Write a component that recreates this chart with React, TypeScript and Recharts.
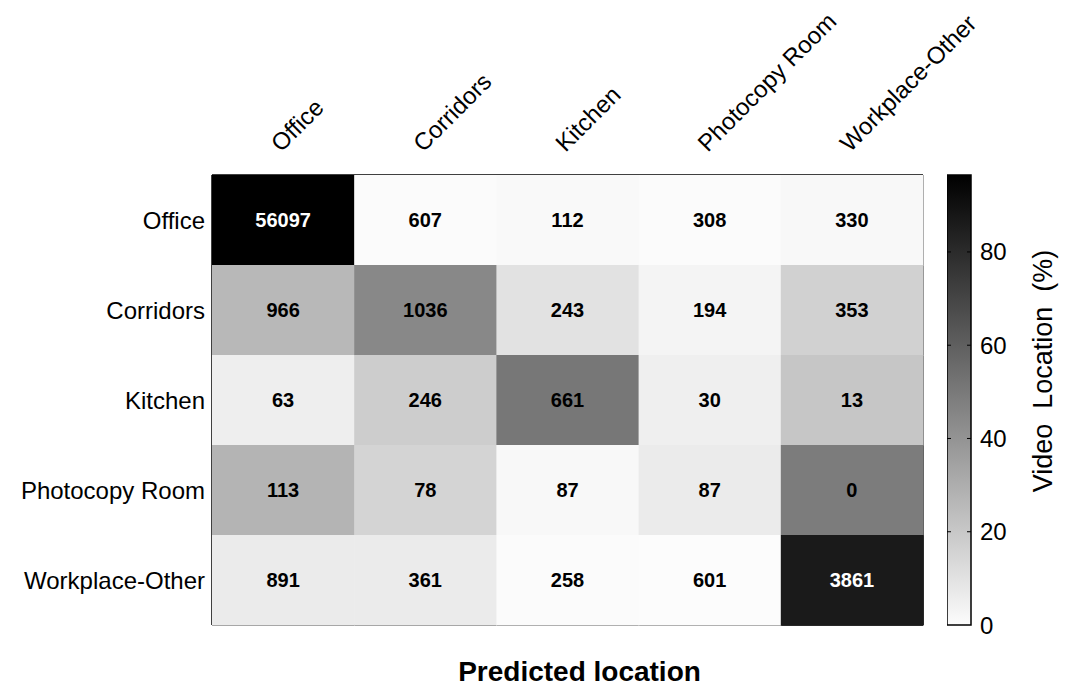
import { ScatterChart, Scatter, XAxis, YAxis, BarChart, Bar } from 'recharts';

const CLASSES = ['Office', 'Corridors', 'Kitchen', 'Photocopy Room', 'Workplace-Other'];

// rows = true location, columns = predicted location
const COUNTS = [
  [56097, 607, 112, 308, 330],
  [966, 1036, 243, 194, 353],
  [63, 246, 661, 30, 13],
  [113, 78, 87, 87, 0],
  [891, 361, 258, 601, 3861],
];

// shade of each cell, % of video location
const PERCENT = [
  [96.5, 0.5, 1.0, 0.5, 1.5],
  [26, 44.5, 10, 3, 16.5],
  [5.5, 18, 51, 5, 20.5],
  [27.5, 15.5, 1.5, 6.5, 49],
  [6.5, 6.5, 0.5, 0, 86.5],
];

const CB_TICKS = [0, 20, 40, 60, 80];

const FONT = "'Liberation Sans', Arial, Helvetica, sans-serif";
const W = 1074;
const H = 686;
const PLOT = { left: 212, top: 175, right: 923, bottom: 625 };
const PLOT_W = PLOT.right - PLOT.left;
const PLOT_H = PLOT.bottom - PLOT.top;
const MAX_PCT = Math.max(...PERCENT.flat());
const WHITE = 252;

const grayFor = (p: number) => {
  const g = Math.round(WHITE * (1 - Math.min(p, MAX_PCT) / MAX_PCT));
  return `rgb(${g},${g},${g})`;
};

const cells = COUNTS.flatMap((row, r) =>
  row.map((count, c) => ({ x: c + 0.5, y: r + 0.5, count, pct: PERCENT[r][c] }))
);

const CellShape = (props: any) => {
  const { cx, cy, payload } = props;
  const w = PLOT_W / CLASSES.length;
  const h = PLOT_H / CLASSES.length;
  const dark = payload.pct > 60;
  return (
    <g>
      <rect x={cx - w / 2} y={cy - h / 2} width={w + 0.6} height={h + 0.6} fill={grayFor(payload.pct)} />
      <text
        x={cx}
        y={cy}
        textAnchor="middle"
        dominantBaseline="central"
        fontFamily={FONT}
        fontWeight="bold"
        fontSize={20}
        fill={dark ? '#fff' : '#000'}
      >
        {payload.count}
      </text>
    </g>
  );
};

const TopTick = ({ x, y, payload }: any) => {
  const name = CLASSES[Math.floor(payload.value)];
  return (
    <text
      x={x - 2}
      y={y - 22}
      transform={`rotate(-45, ${x - 2}, ${y - 22})`}
      fontFamily={FONT}
      fontSize={24}
      fill="#000"
    >
      {name}
    </text>
  );
};

const LeftTick = ({ x, y, payload }: any) => (
  <text x={x - 7} y={y} textAnchor="end" dominantBaseline="central" fontFamily={FONT} fontSize={24} fill="#000">
    {CLASSES[Math.floor(payload.value)]}
  </text>
);

const CB_WIDTH = 24;

const ColorbarTick = ({ x, y, payload }: any) => (
  <g>
    {payload.value > 0 && (
      <>
        <line x1={x - CB_WIDTH} x2={x - CB_WIDTH + 4} y1={y} y2={y} stroke="#000" strokeWidth={1} />
        <line x1={x - 4} x2={x} y1={y} y2={y} stroke="#000" strokeWidth={1} />
      </>
    )}
    <text x={x + 9} y={y} dominantBaseline="central" fontFamily={FONT} fontSize={24} fill="#000">
      {payload.value}
    </text>
  </g>
);

const centers = CLASSES.map((_, i) => i + 0.5);

export default function App() {
  return (
    <div style={{ position: 'relative', width: W, height: H, background: '#fff', fontFamily: FONT }}>
      <style>{'body{margin:0}'}</style>
      <ScatterChart width={W} height={H} margin={{ top: 0, right: 0, bottom: 0, left: 0 }}>
        <XAxis
          xAxisId="t"
          orientation="top"
          type="number"
          dataKey="x"
          domain={[0, 5]}
          ticks={centers}
          height={PLOT.top}
          tickLine={false}
          tickSize={0}
          tickMargin={0}
          axisLine={{ stroke: '#000', strokeWidth: 1.5 }}
          tick={<TopTick />}
          interval={0}
        />
        <YAxis
          yAxisId="l"
          type="number"
          dataKey="y"
          domain={[0, 5]}
          reversed
          ticks={centers}
          width={PLOT.left}
          tickLine={false}
          tickSize={0}
          tickMargin={0}
          axisLine={{ stroke: '#000', strokeWidth: 1.5 }}
          tick={<LeftTick />}
          interval={0}
        />
        <Scatter xAxisId="t" yAxisId="l" data={cells} shape={<CellShape />} isAnimationActive={false} />
        <XAxis
          xAxisId="b"
          orientation="bottom"
          type="number"
          domain={[0, 5]}
          height={H - PLOT.bottom}
          tick={false}
          tickLine={false}
          axisLine={{ stroke: '#000', strokeWidth: 1.5 }}
          label={(p: any) => {
            const vb = p.viewBox || {};
            return (
              <text
                x={vb.x + vb.width / 2 + 12}
                y={vb.y + 56}
                textAnchor="middle"
                fontFamily={FONT}
                fontWeight="bold"
                fontSize={28}
                fill="#000"
              >
                Predicted location
              </text>
            );
          }}
        />
        <YAxis
          yAxisId="r"
          orientation="right"
          type="number"
          domain={[0, 5]}
          width={W - PLOT.right}
          tick={false}
          tickLine={false}
          axisLine={{ stroke: '#000', strokeWidth: 1.5 }}
        />
      </ScatterChart>

      <div style={{ position: 'absolute', left: 947, top: PLOT.top - 10 }}>
        <BarChart
          width={127}
          height={PLOT_H + 50}
          data={[{ name: 'scale', v: MAX_PCT }]}
          margin={{ top: 10, right: 0, bottom: 40, left: 0 }}
          barCategoryGap={0}
        >
          <defs>
            <linearGradient id="cbGrad" x1="0" y1="0" x2="0" y2="1">
              <stop offset="0%" stopColor={grayFor(MAX_PCT)} />
              <stop offset="100%" stopColor={grayFor(0)} />
            </linearGradient>
          </defs>
          <XAxis dataKey="name" hide />
          <YAxis
            orientation="right"
            type="number"
            domain={[0, MAX_PCT]}
            ticks={CB_TICKS}
            width={127 - CB_WIDTH}
            tickLine={false}
            tickSize={0}
            tickMargin={0}
            axisLine={false}
            tick={<ColorbarTick />}
            interval={0}
            label={(p: any) => {
              const vb = p.viewBox || {};
              const lx = vb.x + 81;
              const ly = vb.y + vb.height / 2 - 29;
              return (
                <text
                  x={lx}
                  y={ly}
                  transform={`rotate(-90, ${lx}, ${ly})`}
                  textAnchor="middle"
                  fontFamily={FONT}
                  fontSize={27}
                  fill="#000"
                  style={{ whiteSpace: 'pre' }}
                >
                  {'Video  Location  (%)'}
                </text>
              );
            }}
          />
          <Bar dataKey="v" fill="url(#cbGrad)" stroke="#000" strokeWidth={1.5} isAnimationActive={false} />
        </BarChart>
      </div>
    </div>
  );
}
